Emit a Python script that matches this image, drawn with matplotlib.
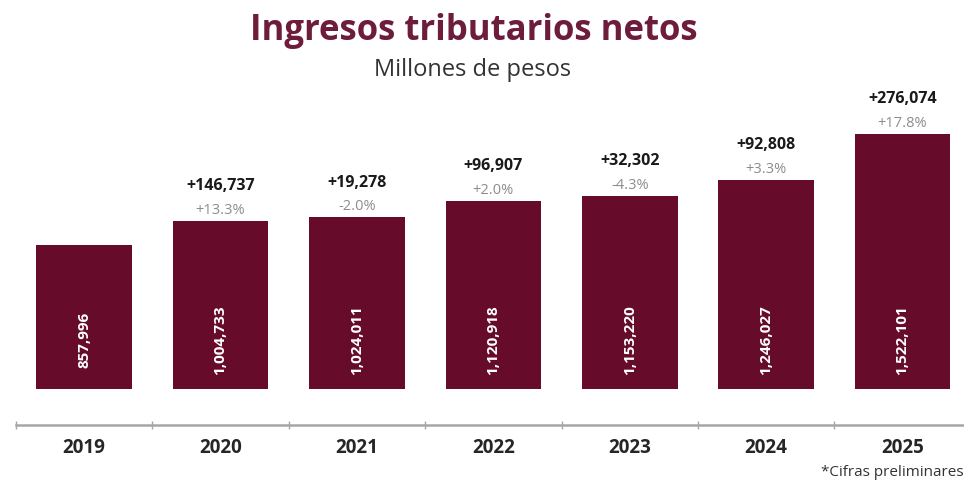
import matplotlib
matplotlib.use("Agg")
import matplotlib.pyplot as plt

plt.rcParams['font.family'] = ['Open Sans', 'DejaVu Sans']

years = ["2019", "2020", "2021", "2022", "2023", "2024", "2025"]
values = [857996, 1004733, 1024011, 1120918, 1153220, 1246027, 1522101]
deltas = ["", "+146,737", "+19,278", "+96,907", "+32,302", "+92,808", "+276,074"]
pcts = ["", "+13.3%", "-2.0%", "+2.0%", "-4.3%", "+3.3%", "+17.8%"]

BAR = "#660c2a"
TITLE = "#6e1c3b"

fig = plt.figure(figsize=(9.64, 4.89), dpi=100)
W, H = 964, 489
ax_left, ax_right, ax_bottom, ax_top = 16, 964, 426, 90
ax = fig.add_axes([ax_left / W, 1 - ax_bottom / H, (ax_right - ax_left) / W, (ax_bottom - ax_top) / H])

k = 255 / 1522101.0  # px per unit
base_px = 390
ax.set_ylim(-(ax_bottom - base_px) / k, (base_px - ax_top) / k)
ax.set_xlim(-0.5, 6.45)

x = list(range(len(years)))
ax.bar(x, values, width=0.70, color=BAR, zorder=2)

for i, v in enumerate(values):
    ax.text(i, 300000, f"{v:,}", rotation=90, ha="center", va="center",
            color="white", fontsize=11, fontweight="bold", zorder=3)
    if deltas[i]:
        ax.annotate(pcts[i], (i, v), xytext=(0, 3), textcoords="offset points",
                    ha="center", va="bottom", fontsize=10.5, color="#8c8c8c")
        ax.annotate(deltas[i], (i, v), xytext=(0, 20), textcoords="offset points",
                    ha="center", va="bottom", fontsize=11.5, fontweight="bold", color="#1a1a1a")

for s in ["top", "right", "left"]:
    ax.spines[s].set_visible(False)
ax.spines["bottom"].set_color("#a6a6a6")
ax.spines["bottom"].set_linewidth(1.8)
ax.set_yticks([])
ax.set_xticks(x)
ax.set_xticklabels(years, fontsize=13.5, fontweight="bold", color="#262626")
ax.tick_params(axis="x", which="major", length=0, pad=9)
ax.set_xticks([i - 0.5 for i in range(len(years))], minor=True)
ax.tick_params(axis="x", which="minor", length=6, direction="inout", color="#a6a6a6", width=1)

fig.text(0.492, 1 - 31 / H, "Ingresos tributarios netos", ha="center", va="center",
         fontsize=25, fontweight="bold", color=TITLE)
fig.text(0.49, 1 - 70 / H, "Millones de pesos", ha="center", va="center",
         fontsize=17, color="#333333")
fig.text(1.0, 1 - 472 / H, "*Cifras preliminares", ha="right", va="center",
         fontsize=11, color="#333333")

fig.savefig("out.png", dpi=100)
